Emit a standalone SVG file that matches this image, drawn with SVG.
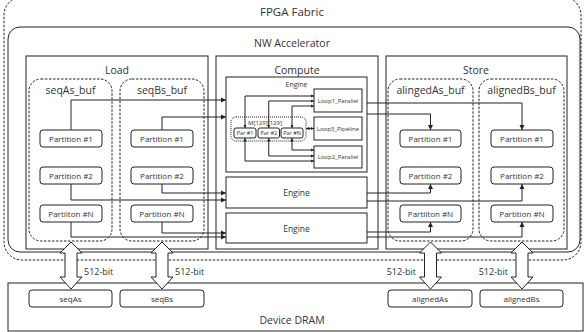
<svg xmlns="http://www.w3.org/2000/svg" width="584" height="332" viewBox="0 0 584 332">
<style>
text{font-family:"Open Sans","Noto Sans","Liberation Sans",sans-serif;fill:#333;text-anchor:middle}
.box{fill:none;stroke:#222;stroke-width:1}
.fill{fill:#fff;stroke:#222;stroke-width:1}
.dash{fill:none;stroke:#222;stroke-width:1;stroke-dasharray:2.5,1.5}
.dot{fill:none;stroke:#222;stroke-width:1;stroke-dasharray:1,1}
.h{font-size:10.5px}
.p{font-size:8px}
.s{font-size:6px}
.c{fill:none;stroke:#222;stroke-width:1}
.ba{fill:#fff;stroke:#222;stroke-width:1}
</style>
<defs>
<marker id="ah" markerUnits="userSpaceOnUse" markerWidth="6" markerHeight="6" refX="5" refY="3" orient="auto-start-reverse">
<path d="M0,0.5 L5,3 L0,5.5 Z" fill="#222"/>
</marker>
<marker id="as" markerUnits="userSpaceOnUse" markerWidth="4" markerHeight="4" refX="3.5" refY="2" orient="auto-start-reverse">
<path d="M0,0.3 L3.5,2 L0,3.7 Z" fill="#222"/>
</marker>
</defs>

<g id="fpga">
<rect x="4" y="-3" width="577" height="263" rx="18" class="dash"/>
<text x="292" y="16" style="font-size:11.5px">FPGA Fabric</text>
</g>

<g id="nw-accelerator">
<rect x="8" y="27" width="572" height="225" rx="12" class="box"/>
<text x="292" y="47" class="h">NW Accelerator</text>
</g>

<g id="dram">
<rect x="8" y="283" width="575" height="48" class="box"/>
<text x="292" y="324" class="h">Device DRAM</text>
</g>

<g id="load">
<rect x="26" y="56" width="182" height="193" class="box"/>
<text x="117" y="73.5" class="h">Load</text>
</g>
<g id="compute">
<rect x="216" y="56" width="162" height="193" class="box"/>
<text x="297" y="73.5" class="h">Compute</text>
</g>
<g id="store">
<rect x="386" y="56" width="181" height="193" class="box"/>
<text x="476" y="73.5" class="h">Store</text>
</g>

<g id="seqAs_buf">
<rect x="29" y="79" width="83" height="162" rx="12" class="dash"/>
<text x="70.5" y="94" class="h">seqAs_buf</text>
</g>
<g id="seqBs_buf">
<rect x="120" y="79" width="84" height="162" rx="12" class="dash"/>
<text x="162" y="94" class="h">seqBs_buf</text>
</g>
<g id="alingedAs_buf">
<rect x="388" y="79" width="85" height="162" rx="12" class="dash"/>
<text x="430.5" y="94" class="h">alingedAs_buf</text>
</g>
<g id="alignedBs_buf">
<rect x="479" y="79" width="85" height="162" rx="12" class="dash"/>
<text x="521.5" y="94" class="h">alignedBs_buf</text>
</g>

<g id="seqAs-p1"><rect x="40" y="130" width="62" height="17" rx="3" class="box"/><text x="71" y="141.5" class="p">Partition #1</text></g>
<g id="seqAs-p2"><rect x="40" y="167" width="62" height="17" rx="3" class="box"/><text x="71" y="178.5" class="p">Partition #2</text></g>
<g id="seqAs-pN"><rect x="40" y="205" width="62" height="17" rx="3" class="box"/><text x="71" y="216.5" class="p">Partiiton #N</text></g>
<g id="seqBs-p1"><rect x="131" y="130" width="62" height="17" rx="3" class="box"/><text x="162" y="141.5" class="p">Partition #1</text></g>
<g id="seqBs-p2"><rect x="131" y="167" width="62" height="17" rx="3" class="box"/><text x="162" y="178.5" class="p">Partition #2</text></g>
<g id="seqBs-pN"><rect x="131" y="205" width="62" height="17" rx="3" class="box"/><text x="162" y="216.5" class="p">Partition #N</text></g>
<g id="alAs-p1"><rect x="400" y="130" width="61" height="17" rx="3" class="box"/><text x="430.5" y="141.5" class="p">Partition #1</text></g>
<g id="alAs-p2"><rect x="400" y="167" width="61" height="17" rx="3" class="box"/><text x="430.5" y="178.5" class="p">Partition #2</text></g>
<g id="alAs-pN"><rect x="400" y="205" width="61" height="17" rx="3" class="box"/><text x="430.5" y="216.5" class="p">Partiiton #N</text></g>
<g id="alBs-p1"><rect x="491" y="130" width="62" height="17" rx="3" class="box"/><text x="522" y="141.5" class="p">Partition #1</text></g>
<g id="alBs-p2"><rect x="491" y="167" width="62" height="17" rx="3" class="box"/><text x="522" y="178.5" class="p">Partition #2</text></g>
<g id="alBs-pN"><rect x="491" y="205" width="62" height="17" rx="3" class="box"/><text x="522" y="216.5" class="p">Partition #N</text></g>

<g id="engine1">
<rect x="226" y="77" width="141" height="95" class="box"/>
<text x="296.5" y="86.5" style="font-size:7px">Engine</text>
</g>
<g id="loop1"><rect x="314" y="89" width="48" height="23" class="box"/><text x="338" y="102.5" class="s">Loop1_Parallel</text></g>
<g id="loop3"><rect x="314" y="117" width="48" height="23" class="box"/><text x="338" y="130.5" class="s">Loop3_Pipeline</text></g>
<g id="loop2"><rect x="314" y="146" width="48" height="22" class="box"/><text x="338" y="159" class="s">Loop2_Parallel</text></g>
<g id="matrix">
<rect x="231" y="117" width="75" height="24" rx="5" class="dot"/>
<text x="265" y="124.5" class="s">M[129][129]</text>
</g>
<g id="par1"><rect x="234" y="128" width="22" height="10" rx="2" class="box"/><text x="245" y="135" style="font-size:5.5px">Par #1</text></g>
<g id="par2"><rect x="258" y="128" width="21.5" height="10" rx="2" class="box"/><text x="268.75" y="135" style="font-size:5.5px">Par #2</text></g>
<g id="parN"><rect x="281" y="128" width="22" height="10" rx="2" class="box"/><text x="292" y="135" style="font-size:5.5px">Par #N</text></g>

<g id="engine2"><rect x="226" y="177" width="141" height="31" class="box"/><text x="296.5" y="196" style="font-size:8.5px">Engine</text></g>
<g id="engine3"><rect x="226" y="213" width="141" height="30" class="box"/><text x="296.5" y="231.5" style="font-size:8.5px">Engine</text></g>

<g id="dram-seqAs"><rect x="29" y="290" width="83" height="17" rx="3" class="box"/><text x="70.5" y="301.5" class="p">seqAs</text></g>
<g id="dram-seqBs"><rect x="120" y="290" width="84" height="17" rx="3" class="box"/><text x="162" y="301.5" class="p">seqBs</text></g>
<g id="dram-alignedAs"><rect x="388" y="290" width="84" height="17" rx="3" class="box"/><text x="430" y="301.5" class="p">alignedAs</text></g>
<g id="dram-alignedBs"><rect x="480" y="290" width="83" height="17" rx="3" class="box"/><text x="521.5" y="301.5" class="p">alignedBs</text></g>

<g id="connectors">
<path class="c" marker-end="url(#ah)" d="M71,130 V100 H226"/>
<path class="c" marker-end="url(#ah)" d="M162,130 V117 H226"/>
<path class="c" marker-end="url(#ah)" d="M71,184 V200 H226"/>
<path class="c" marker-end="url(#ah)" d="M162,184 V193 H226"/>
<path class="c" marker-end="url(#ah)" d="M71,222 V237 H226"/>
<path class="c" marker-end="url(#ah)" d="M162,222 V233 H226"/>

<path class="c" marker-end="url(#ah)" d="M367,103 H522 V130"/>
<path class="c" marker-end="url(#ah)" d="M367,114 H430.5 V130"/>
<path class="c" marker-end="url(#ah)" d="M367,193 H430.5 V184"/>
<path class="c" marker-end="url(#ah)" d="M367,201 H522 V184"/>
<path class="c" marker-end="url(#ah)" d="M367,232 H430.5 V222"/>
<path class="c" marker-end="url(#ah)" d="M367,237 H522 V222"/>

<path class="c" marker-start="url(#as)" marker-end="url(#as)" d="M245,128 V96 H314"/>
<path class="c" marker-start="url(#as)" marker-end="url(#as)" d="M268.75,128 V101 H314"/>
<path class="c" marker-start="url(#as)" marker-end="url(#as)" d="M292,128 V106 H314"/>
<path class="c" marker-start="url(#as)" marker-end="url(#as)" d="M245,138 V161 H314"/>
<path class="c" marker-start="url(#as)" marker-end="url(#as)" d="M268.75,138 V156 H314"/>
<path class="c" marker-start="url(#as)" marker-end="url(#as)" d="M292,138 V150 H314"/>
<path class="c" marker-start="url(#as)" marker-end="url(#as)" d="M306,128.5 H314"/>

<path class="ba" d="M71,242 L82,253 L77,253 L77,277 L82,277 L71,289 L60,277 L65,277 L65,253 L60,253 Z"/>
<path class="ba" d="M162,242 L173,253 L168,253 L168,277 L173,277 L162,289 L151,277 L156,277 L156,253 L151,253 Z"/>
<path class="ba" d="M430.5,242 L441.5,253 L436.5,253 L436.5,277 L441.5,277 L430.5,289 L419.5,277 L424.5,277 L424.5,253 L419.5,253 Z"/>
<path class="ba" d="M522,242 L533,253 L528,253 L528,277 L533,277 L522,289 L511,277 L516,277 L516,253 L511,253 Z"/>
<text x="84" y="275" style="font-size:9px;text-anchor:start">512-bit</text>
<text x="175" y="275" style="font-size:9px;text-anchor:start">512-bit</text>
<text x="416" y="275" style="font-size:9px;text-anchor:end">512-bit</text>
<text x="508" y="275" style="font-size:9px;text-anchor:end">512-bit</text>
</g>
</svg>
